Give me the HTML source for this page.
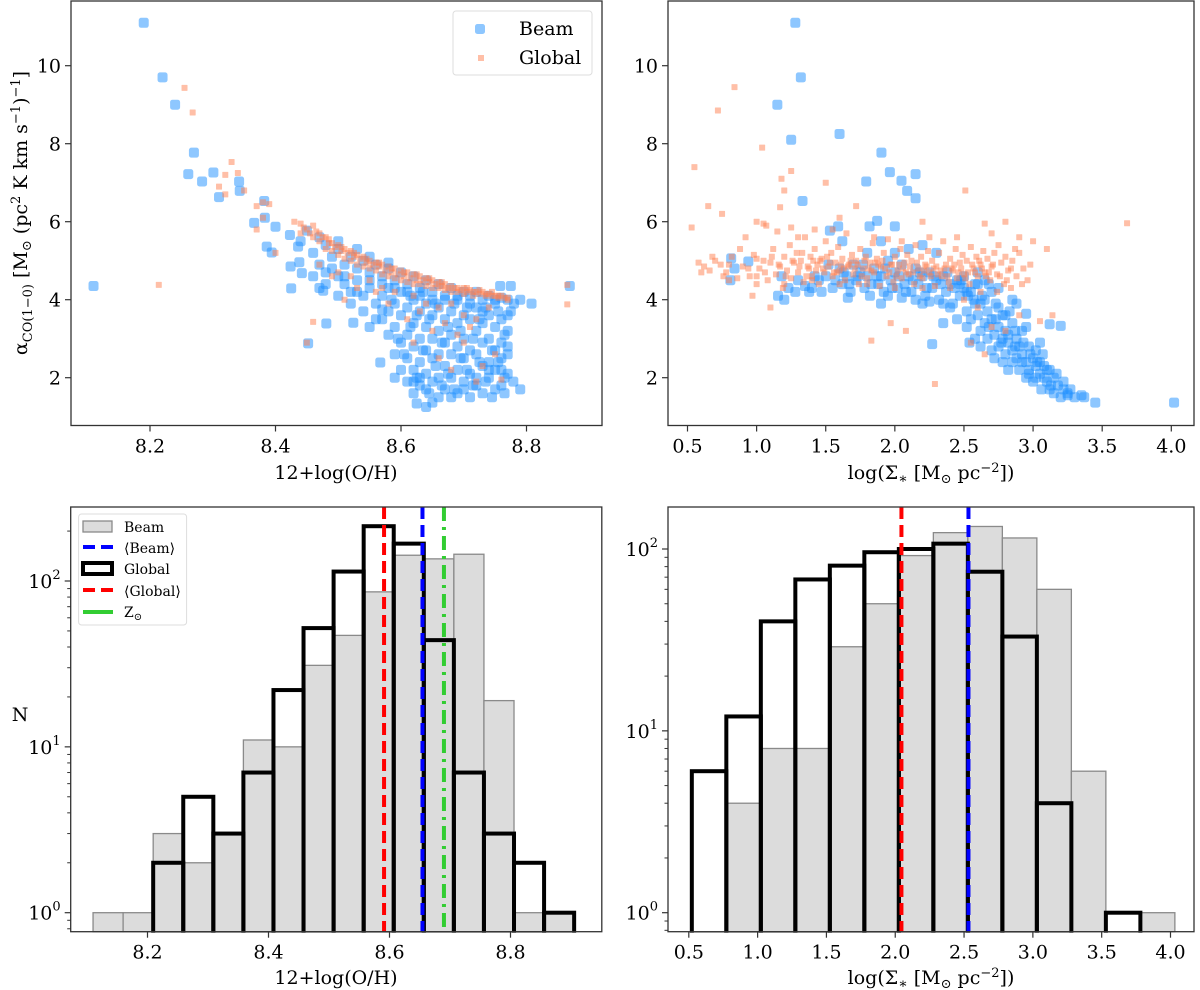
<!DOCTYPE html>
<html><head><meta charset="utf-8"><style>
html,body{margin:0;padding:0;background:#fff;}
svg{display:block;font-family:"DejaVu Serif","Liberation Serif",serif;}
</style></head><body>
<svg id="fig" width="1200" height="990" viewBox="0 0 1200 990" xmlns="http://www.w3.org/2000/svg">
<g id="gTL"></g>
<g id="gTR"></g>
<g id="gBL"></g>
<g id="gBR"></g>
<g id="gText">
<text transform="translate(27,213) rotate(-90)" text-anchor="middle" font-size="19">α<tspan font-size="13" dy="5">CO(1−0)</tspan><tspan dy="-5"> [M</tspan><tspan font-size="13" dy="4">⊙</tspan><tspan dy="-4"> (pc</tspan><tspan font-size="13" dy="-7">2</tspan><tspan dy="7"> K km s</tspan><tspan font-size="13" dy="-7">−1</tspan><tspan dy="7">)</tspan><tspan font-size="13" dy="-7">−1</tspan><tspan dy="7">]</tspan></text>
<text x="336" y="479" text-anchor="middle" font-size="19">12+log(O/H)</text>
<text x="931" y="479" text-anchor="middle" font-size="19">log(Σ<tspan font-size="14" dy="4">∗</tspan><tspan dy="-4"> [M</tspan><tspan font-size="13" dy="4">⊙</tspan><tspan dy="-4"> pc</tspan><tspan font-size="13" dy="-7">−2</tspan><tspan dy="7">])</tspan></text>
<text x="20" y="721" text-anchor="middle" font-size="19">N</text>
<text x="336" y="984" text-anchor="middle" font-size="19">12+log(O/H)</text>
<text x="931" y="984" text-anchor="middle" font-size="19">log(Σ<tspan font-size="14" dy="4">∗</tspan><tspan dy="-4"> [M</tspan><tspan font-size="13" dy="4">⊙</tspan><tspan dy="-4"> pc</tspan><tspan font-size="13" dy="-7">−2</tspan><tspan dy="7">])</tspan></text>
</g>
</svg>
<script>
// ---------- DATA ----------
const tlBeamX=[8.11,8.19,8.22,8.24,8.261,8.27,8.283,8.301,8.31,8.342,8.343,8.382,8.366,8.383,8.40,8.386,8.394,8.423,8.424,8.425,8.436,8.438,8.442,8.45,8.476,8.481,8.452,8.524,8.567,8.625,8.64,8.65,8.758,8.775,8.869,8.808,8.79,8.78,8.775,8.779,8.79,8.57,
8.46,8.47,8.48,8.48,8.49,8.50,8.50,8.51,8.51,8.52,8.52,8.53,8.53,8.54,8.54,8.55,8.55,8.56,8.56,8.57,8.57,8.57,8.58,8.58,8.58,8.59,8.59,8.59,8.60,8.60,8.60,8.60,8.61,8.61,8.61,8.61,8.62,8.62,8.62,8.62,8.62,8.63,8.63,8.63,8.63,8.63,8.64,8.64,8.64,8.64,8.64,8.65,8.65,8.65,8.65,8.65,8.66,8.66,8.66,8.66,8.66,8.67,8.67,8.67,8.67,8.67,8.68,8.68,8.68,8.68,8.68,8.69,8.69,8.69,8.69,8.69,8.70,8.70,8.70,8.70,8.70,8.71,8.71,8.71,8.71,8.71,8.72,8.72,8.72,8.72,8.72,8.73,8.73,8.73,8.73,8.73,8.74,8.74,8.74,8.74,8.74,8.75,8.75,8.75,8.75,8.75,8.76,8.76,8.76,8.76,8.76,8.77,8.77,8.77,8.77,8.62,8.59,8.44,8.47,8.50,8.53,8.55,8.58];
const tlBeamY=[4.35,11.1,9.7,9.0,7.22,7.77,7.03,7.26,6.63,7.03,6.79,6.53,5.97,6.1,5.87,5.36,5.21,5.66,4.85,4.29,5.36,4.96,4.68,5.77,4.23,3.39,2.88,3.41,2.39,1.34,1.25,1.36,4.35,4.35,4.35,3.9,4.0,3.9,3.7,1.9,1.7,3.75,
5.2,4.9,5.4,4.7,5.1,4.6,5.3,4.9,4.4,5.1,4.2,4.8,4.5,5.0,4.1,4.7,4.3,4.9,3.9,4.6,4.1,3.5,4.8,4.3,3.7,4.5,3.9,3.3,4.7,4.2,3.6,2.9,4.4,3.8,3.1,2.5,4.6,4.0,3.4,2.8,2.2,4.3,3.7,3.0,2.4,1.8,4.5,3.9,3.3,2.7,2.1,4.2,3.6,3.0,2.5,1.9,4.4,3.8,3.2,2.6,2.0,4.1,3.5,2.9,2.3,1.7,4.3,3.7,3.1,2.6,2.0,4.0,3.4,2.8,2.2,1.6,4.2,3.6,3.0,2.5,1.9,4.1,3.5,2.7,2.1,1.5,4.2,3.8,3.2,2.6,1.8,4.0,3.4,2.9,2.3,1.6,4.1,3.6,3.0,2.4,2.0,4.0,3.3,2.7,2.2,1.7,4.05,3.5,2.9,2.5,1.8,4.0,3.2,2.6,2.1,1.9,2.0,5.5,5.6,5.5,5.3,5.1,4.95];
const tlBeamX2=[8.585,8.595,8.605,8.615,8.615,8.625,8.625,8.635,8.635,8.645,8.645,8.655,8.655,8.665,8.665,8.675,8.675,8.685,8.685,8.695,8.695,8.705,8.705,8.715,8.715,8.725,8.725,8.735,8.735,8.745,8.745,8.755,8.755,8.765,8.765,8.765,8.60,8.61,8.58,8.59,8.56,8.55,8.54,8.52,8.50,8.48,8.46,8.47,8.49,8.51,8.53,8.55,8.57,8.59,8.61,8.63,8.65,8.67,8.69,8.71,8.73,8.75,8.77,8.77,8.76,8.74,8.72,8.70,8.68,8.66,8.64,8.62,8.63];
const tlBeamY2=[4.0,3.0,2.6,4.1,3.3,2.0,3.6,2.7,4.2,1.6,3.5,2.3,3.9,1.8,2.9,3.3,2.1,1.7,3.9,2.5,3.2,2.2,3.8,1.8,3.0,2.4,3.5,1.9,3.8,2.7,1.5,2.4,3.7,2.0,3.1,1.6,2.2,1.9,3.1,2.6,3.5,3.3,3.7,3.9,4.1,4.4,4.6,4.3,4.8,4.6,4.2,4.5,4.4,4.3,4.2,4.1,4.0,4.0,4.1,3.9,3.7,3.9,3.6,2.8,2.2,2.2,2.0,1.7,1.5,1.5,1.7,1.6,2.0];
const tlGlobX=[8.255,8.268,8.33,8.32,8.31,8.32,8.34,8.35,8.37,8.38,8.39,8.38,8.37,8.40,8.214,8.865,8.865,8.51,8.46,8.45,8.76,8.77,
8.43,8.44,8.44,8.45,8.46,8.46,8.47,8.47,8.48,8.48,8.49,8.49,8.50,8.50,8.51,8.51,8.52,8.52,8.53,8.53,8.54,8.54,8.55,8.55,8.56,8.56,8.57,8.57,8.58,8.58,8.59,8.59,8.60,8.60,8.61,8.61,8.62,8.62,8.63,8.63,8.64,8.64,8.65,8.65,8.66,8.66,8.67,8.67,8.68,8.68,8.69,8.69,8.70,8.70,8.71,8.72,8.73,8.74,8.75,8.76,8.77,
8.50,8.52,8.55,8.57,8.59,8.62,8.64,8.66,8.68,8.70,8.72,8.74,8.71,8.69,8.67,8.65,8.63,8.61,8.58,8.56,8.53,8.49,8.47,8.75,8.73,8.70,8.66,8.62,8.68,8.72];
const tlGlobY=[9.43,8.8,7.53,7.2,6.9,6.7,7.25,6.8,6.4,6.5,6.45,6.1,5.8,5.2,4.38,4.38,3.88,4.0,3.43,2.9,1.95,4.0,
6.0,5.95,5.7,5.8,5.6,5.9,5.5,5.7,5.6,5.3,5.45,5.25,5.4,5.15,5.3,5.05,5.25,5.0,5.15,4.9,5.1,4.85,5.0,4.8,4.95,4.75,4.9,4.65,4.85,4.6,4.8,4.55,4.75,4.5,4.7,4.45,4.65,4.4,4.6,4.4,4.55,4.35,4.5,4.3,4.45,4.3,4.4,4.25,4.35,4.2,4.3,4.2,4.3,4.15,4.25,4.2,4.2,4.15,4.1,4.1,4.05,
4.7,4.6,4.5,4.3,4.2,4.1,3.9,3.8,3.9,3.6,3.5,3.8,3.3,3.1,3.4,3.2,3.7,3.5,3.9,4.2,4.3,4.6,4.9,2.6,2.3,2.9,2.5,2.9,2.2,1.9];
const tlGlobX2=[8.445,8.455,8.465,8.475,8.485,8.495,8.505,8.515,8.525,8.535,8.545,8.555,8.565,8.575,8.585,8.595,8.605,8.615,8.625,8.635,8.645,8.655,8.665,8.675,8.685,8.695,8.705,8.715,8.725,8.735,8.745,8.755,8.765,8.705,8.715,8.725,8.735,8.745,8.755,8.665,8.645,8.625,8.605,8.585,8.565,8.545,8.525,8.505,8.485];
const tlGlobY2=[5.85,5.7,5.75,5.6,5.45,5.35,5.25,5.2,5.1,5.05,4.95,4.9,4.85,4.75,4.7,4.65,4.6,4.55,4.5,4.5,4.45,4.4,4.35,4.3,4.3,4.25,4.2,4.2,4.15,4.15,4.1,4.1,4.05,4.3,4.1,4.25,4.1,4.2,4.05,4.45,4.55,4.65,4.7,4.8,4.95,5.05,5.2,5.35,5.55];

const trBeamX=[1.28,1.32,1.15,1.25,1.6,1.903,1.964,1.793,2.048,2.15,2.089,2.15,1.332,1.872,1.817,2.0,1.53,1.59,1.62,0.816,0.94,0.84,0.81,1.18,1.155,1.23,1.28,1.38,1.66,1.9,2.2,2.27,2.54,3.12,3.2,4.02,3.45,3.37,3.25,3.06,2.88,2.95,
1.50,1.55,1.60,1.62,1.65,1.68,1.70,1.72,1.75,1.78,1.80,1.82,1.85,1.88,1.90,1.92,1.95,1.97,2.00,2.02,2.05,2.07,2.10,2.12,2.15,2.17,2.20,2.22,2.25,2.27,2.30,2.32,2.35,2.37,2.40,2.42,2.45,2.47,2.50,2.52,1.4,1.45,1.35,1.2,2.3,2.2,2.1,1.9,1.8,2.0,
2.50,2.52,2.55,2.55,2.58,2.58,2.60,2.60,2.62,2.62,2.65,2.65,2.67,2.67,2.70,2.70,2.70,2.72,2.72,2.75,2.75,2.75,2.78,2.78,2.80,2.80,2.80,2.82,2.82,2.85,2.85,2.85,2.88,2.88,2.90,2.90,2.92,2.92,2.95,2.95,2.97,2.97,3.00,3.00,3.02,3.02,3.05,3.05,3.08,3.08,3.10,3.10,3.12,3.15,3.15,3.18,3.20,3.22,3.25,3.30,2.6,2.65,2.75,2.85,2.95,3.05,2.45,2.4,2.35];
const trBeamY=[11.1,9.7,9.0,8.1,8.25,7.77,7.27,7.03,7.05,7.22,6.79,6.6,6.53,6.02,5.88,5.88,5.77,5.88,5.5,5.06,4.98,4.8,4.5,4.6,4.1,4.3,4.2,4.2,4.05,3.9,3.9,2.86,2.9,3.37,3.33,1.36,1.36,1.5,1.6,1.7,3.9,3.64,
4.6,4.3,4.8,4.4,4.6,4.2,4.9,4.5,4.7,4.3,4.6,4.1,4.8,4.4,4.6,4.2,5.0,4.5,4.7,4.3,4.9,4.4,4.6,4.2,4.8,4.4,4.6,4.1,4.7,4.3,4.5,4.0,4.6,4.2,4.4,3.9,4.5,4.1,4.3,3.7,4.3,4.5,4.35,4.0,5.2,5.4,5.3,5.5,5.2,5.2,
4.6,3.3,4.2,3.5,3.9,3.0,4.4,3.6,3.2,2.8,4.0,3.4,3.7,3.0,4.2,3.5,2.7,3.1,2.5,3.8,3.3,2.8,3.0,2.4,3.6,3.2,2.6,2.9,2.2,3.4,2.7,2.4,3.0,2.5,2.8,2.2,3.2,2.6,2.4,2.0,2.8,2.2,2.5,1.9,2.3,2.7,2.1,2.4,2.0,2.3,1.9,2.2,1.7,2.0,1.6,1.8,1.5,1.7,1.55,1.5,4.7,4.5,4.3,4.0,3.3,2.9,3.5,3.8,3.4];
const trBeamX2=[1.3,1.42,1.47,1.52,1.57,1.63,1.67,1.73,1.77,1.83,1.87,1.93,1.98,2.03,2.08,2.13,2.18,2.23,2.28,2.33,2.38,2.43,2.48,2.53,2.58,2.63,2.68,2.73,2.78,2.83,2.87,2.93,2.98,3.03,3.07,3.12,3.17,3.22,3.27,3.35,2.62,2.68,2.73,2.77,2.82,2.87,2.92,2.97,3.02,3.13,2.57,2.52,2.47,1.95,2.05,2.15,2.25,2.35];
const trBeamY2=[4.5,4.6,4.2,4.9,4.5,4.7,4.4,4.6,4.9,4.4,4.6,4.8,4.3,4.6,4.2,4.5,4.7,4.3,4.6,4.4,4.7,4.3,4.5,4.1,4.4,4.1,4.4,3.9,3.6,3.7,3.2,2.9,2.6,2.4,2.6,2.2,2.1,1.9,1.7,1.55,3.9,3.3,3.5,2.9,3.1,2.8,2.4,2.1,2.0,1.8,4.0,4.2,4.4,4.1,4.05,4.0,3.95,3.9];
const trGlobX=[0.58,0.62,0.66,0.70,0.74,0.78,0.82,0.86,0.90,0.92,0.95,0.98,1.00,1.02,1.05,1.07,1.08,1.10,1.12,1.14,1.15,1.17,1.19,1.20,1.22,1.24,1.25,1.27,1.29,1.30,1.32,1.34,1.35,1.37,1.39,1.40,1.42,1.44,1.45,1.47,1.49,1.50,1.52,1.54,1.55,1.57,1.59,1.60,1.62,1.64,1.65,1.67,1.69,1.70,1.72,1.74,1.75,1.77,1.79,1.80,1.82,1.84,1.85,1.87,1.89,1.90,1.92,1.94,1.95,1.97,1.99,2.00,2.02,2.04,2.05,2.07,2.09,2.10,2.12,2.14,2.15,2.17,2.19,2.20,2.22,2.24,2.25,2.27,2.29,2.30,2.32,2.34,2.35,2.37,2.39,2.40,2.42,2.44,2.45,2.47,2.49,2.50,2.52,2.54,2.55,2.57,2.59,2.60,2.62,2.64,2.65,2.67,2.69,2.70,2.72,2.74,2.75,2.77,2.79,2.80,2.82,2.85,2.88,2.90,2.93,2.96,
1.31,1.43,1.53,1.63,1.73,1.83,1.93,2.03,2.13,2.23,2.33,2.43,2.53,2.63,1.36,1.46,1.56,1.66,1.76,1.86,1.96,2.06,2.16,2.26,2.36,2.46,2.56,2.66,
0.55,0.65,0.53,0.72,0.84,1.04,1.18,1.25,1.20,1.17,1.50,1.72,2.51,3.68,2.29,1.83,2.08,1.97,3.14,3.05,0.97,1.0,1.05,1.30,2.8,2.9,3.0,3.1,1.6,2.65,2.2,1.42,0.75,1.1,2.6,2.7,2.5,2.8,2.9,2.55,2.65];
const trGlobY=[4.95,4.85,4.75,5.0,4.9,4.7,5.1,4.55,4.85,5.6,4.6,5.15,4.4,4.8,5.0,5.9,4.5,4.95,5.3,4.65,5.75,4.85,4.3,5.1,4.75,5.4,4.55,4.95,5.2,4.7,5.0,4.45,5.6,4.85,5.1,4.6,5.3,4.9,4.4,5.05,4.7,5.5,4.85,5.2,4.6,4.95,5.35,4.75,5.05,4.5,5.7,4.9,5.15,4.65,5.0,4.4,5.3,4.8,5.1,4.55,4.95,5.45,4.7,5.05,4.35,4.85,5.2,4.6,5.55,4.9,4.45,5.1,4.75,5.3,4.55,4.95,5.15,4.65,5.0,4.4,5.4,4.8,5.1,4.55,4.9,5.25,4.7,5.0,4.35,4.85,5.2,4.6,5.5,4.9,4.45,5.05,4.75,5.3,4.55,4.95,5.15,4.65,5.0,4.4,5.35,4.8,5.1,4.6,4.9,5.25,4.7,5.05,4.5,4.85,5.2,4.65,5.4,4.95,4.4,5.1,4.75,5.0,4.6,5.2,4.8,4.5,
4.85,4.75,4.95,4.8,4.9,4.75,4.8,4.9,4.7,4.85,4.75,4.9,4.7,4.8,4.6,5.0,4.7,4.85,4.6,4.95,4.7,4.8,4.95,4.6,4.8,4.7,4.9,4.6,
7.4,6.4,5.85,8.85,9.45,7.9,7.1,7.3,6.8,6.37,7.0,6.4,6.8,5.96,1.84,2.95,3.2,3.4,3.6,3.45,4.1,6.0,5.95,5.6,6.0,5.6,5.5,5.3,6.1,5.95,6.0,5.8,6.2,3.8,3.8,3.3,4.0,3.2,3.6,2.9,2.6];
const trGlobX2=[0.6,0.68,0.76,0.8,0.88,0.94,1.0,1.06,1.11,1.16,1.21,1.26,1.33,1.38,1.41,1.48,1.51,1.58,1.61,1.68,1.71,1.78,1.81,1.88,1.91,1.98,2.01,2.08,2.11,2.18,2.21,2.28,2.31,2.38,2.41,2.48,2.51,2.58,2.61,2.68,2.71,2.76,2.81,2.84,2.87,2.92,2.98,2.84,2.74,2.62,2.4,2.2,2.0,1.8,1.6,1.4,1.2,1.0,0.8,1.85,2.05,2.25,2.45,2.7,1.55,1.25];
const trGlobY2=[4.7,5.1,4.6,4.9,5.3,4.8,5.05,4.7,5.1,4.9,4.6,5.0,5.2,4.8,5.0,4.8,5.1,4.7,4.9,5.0,4.8,5.0,4.8,4.9,5.0,4.9,4.6,4.7,4.85,4.6,4.75,4.8,4.65,4.6,4.8,4.8,4.55,4.7,5.0,4.7,4.9,4.6,4.5,4.8,5.3,4.4,4.9,4.3,4.2,4.2,4.3,4.3,4.3,4.4,4.4,4.5,4.4,4.6,4.5,5.6,5.5,5.6,5.6,5.7,5.8,5.85];

// Histogram (metallicity)
const blBinStart=8.11, blBinWidth=0.0497;
const blBeamCounts=[1,1,3,2,3,11,10,31,47,86,143,136,145,19,1,1];
const blGlobalCounts=[0,0,2,5,3,7,22,52,114,214,168,44,7,3,2,1];
const blMeanBeam=8.6545, blMeanGlobal=8.591, blSolar=8.69;
// Histogram (stellar density)
const brBinStart=0.522, brBinWidth=0.2507;
const brBeamCounts=[0,4,8,8,29,50,92,123,133,115,60,6,0,1];
const brGlobalCounts=[6,12,40,68,81,96,100,107,75,33,4,0,1,0];
const brMeanBeam=2.532, brMeanGlobal=2.045;
// ticks
const tlXTicks=[8.2,8.4,8.6,8.8], tlXLabels=["8.2","8.4","8.6","8.8"];
const yTicks=[2,4,6,8,10], yLabels=["2","4","6","8","10"];
const trXTicks=[0.5,1.0,1.5,2.0,2.5,3.0,3.5,4.0], trXLabels=["0.5","1.0","1.5","2.0","2.5","3.0","3.5","4.0"];
const logDecades=[0,1,2];

// ---------- HELPERS ----------
const NS="http://www.w3.org/2000/svg";
function mk(tag,attrs,parent){const e=document.createElementNS(NS,tag);for(const k in attrs)e.setAttribute(k,attrs[k]);parent.appendChild(e);return e;}
function lin(d0,d1,p0,p1){return v=>p0+(v-d0)*(p1-p0)/(d1-d0);}
function logs(d0,d1,p0,p1){return v=>p0+(Math.log10(v)-d0)*(p1-p0)/(d1-d0);}

function frame(g,L,T,R,B){const r=mk('rect',{x:L,y:T,width:R-L,height:B-T,fill:'none',stroke:'#333','stroke-width':1.3},g);

}
function xTicks(g,sx,ticks,labels,B,fs){ticks.forEach((t,i)=>{const x=sx(t);
const l=mk('line',{x1:x,x2:x,y1:B,y2:B+6,stroke:'#333','stroke-width':1.2},g);


const tx=mk('text',{x:x,y:B+27,'text-anchor':'middle','font-size':fs},g);tx.textContent=labels[i];

});}
function yTicksLin(g,sy,L){yTicks.forEach((t,i)=>{const y=sy(t);
const l=mk('line',{x1:L-6,x2:L,y1:y,y2:y,stroke:'#333','stroke-width':1.2},g);


const tx=mk('text',{x:L-10,y:y+7,'text-anchor':'end','font-size':19},g);tx.textContent=yLabels[i];

});}
function yTicksLog(g,sy,L,T,B){logDecades.forEach(d=>{const y=sy(Math.pow(10,d));
const l=mk('line',{x1:L-6,x2:L,y1:y,y2:y,stroke:'#333','stroke-width':1.2},g);


const tx=mk('text',{x:L-10,y:y+7,'text-anchor':'end','font-size':19},g);tx.textContent='10';


const sp=mk('tspan',{'font-size':13,dy:-9},tx);sp.textContent=String(d);});
for(let d=-1;d<=2;d++)for(let m=2;m<=9;m++){const y=sy(m*Math.pow(10,d));if(y<T||y>B)continue;
const l=mk('line',{x1:L-3.5,x2:L,y1:y,y2:y,stroke:'#333','stroke-width':1},g);

}}
function scatter(g,xs,ys,sx,sy,kind){const s=kind==='beam'?10:6;xs.forEach((v,i)=>{
const r=mk('rect',{x:sx(v)-s/2,y:sy(ys[i])-s/2,width:s,height:s,rx:kind==='beam'?2.5:0.5,fill:kind==='beam'?'#1E90FF':'#FF7F50','fill-opacity':0.5},g);

});}
function hist(g,start,w,counts,sx,sy,B,kind){counts.forEach((c,i)=>{if(c<=0)return;
const x0=sx(start+i*w),x1=sx(start+(i+1)*w),y=sy(c);
const r=mk('rect',kind==='beam'?{x:x0,y:y,width:x1-x0,height:B-y,fill:'#dcdcdc',stroke:'#8a8a8a','stroke-width':1.3}:{x:x0,y:y,width:x1-x0,height:B-y+3,fill:'none',stroke:'#000','stroke-width':4},g);

});}
function vline(g,x,T,B,color,dash,name){const l=mk('line',{x1:x,x2:x,y1:T,y2:B,stroke:color,'stroke-width':4,'stroke-dasharray':dash},g);

}

// ---------- TOP LEFT ----------
(function(){const g=document.getElementById('gTL');const L=71,T=1,R=602,B=425.5;
const sx=lin(8.2,8.8,150,526.5), sy=lin(10,8,65.7,143.7);
const cg=mk('g',{},g);
scatter(cg,tlBeamX.concat(tlBeamX2),tlBeamY.concat(tlBeamY2),sx,sy,'beam');
scatter(cg,tlGlobX.concat(tlGlobX2),tlGlobY.concat(tlGlobY2),sx,sy,'global');
frame(g,L,T,R,B);xTicks(g,sx,tlXTicks,tlXLabels,B,19);yTicksLin(g,sy,L);
const lg=mk('g',{},g);
mk('rect',{x:453,y:11,width:139,height:64,rx:3,fill:'#fff',stroke:'#ddd'},lg);
mk('rect',{x:475,y:24,width:10,height:10,rx:2.5,fill:'#1E90FF','fill-opacity':0.5},lg);
mk('rect',{x:478,y:55,width:6,height:6,fill:'#FF7F50','fill-opacity':0.5},lg);
let t=mk('text',{x:519,y:35,'font-size':19},lg);t.textContent='Beam';


t=mk('text',{x:519,y:64,'font-size':19},lg);t.textContent='Global';


})();
// ---------- TOP RIGHT ----------
(function(){const g=document.getElementById('gTR');const L=668,T=1,R=1194,B=425.5;
const sx=lin(0.5,4.0,687.5,1171.3), sy=lin(10,8,65.7,143.7);
const cg=mk('g',{},g);
scatter(cg,trBeamX.concat(trBeamX2),trBeamY.concat(trBeamY2),sx,sy,'beam');
scatter(cg,trGlobX.concat(trGlobX2),trGlobY.concat(trGlobY2),sx,sy,'global');
frame(g,L,T,R,B);xTicks(g,sx,trXTicks,trXLabels,B,19);yTicksLin(g,sy,L);
})();
// ---------- BOTTOM LEFT ----------
(function(){const g=document.getElementById('gBL');const L=70.7,T=507,R=601.8,B=931.7;
const sx=lin(8.2,8.8,147.5,510.5), sy=logs(0,2,912.7,581);
const cg=mk('g',{},g);
hist(cg,blBinStart,blBinWidth,blBeamCounts,sx,sy,B,'beam');
hist(cg,blBinStart,blBinWidth,blGlobalCounts,sx,sy,B,'global');
vline(cg,sx(blMeanGlobal),T,B,'#ff0000','12 6','mean-global-line');
vline(cg,sx(blMeanBeam),T,B,'#0000ff','12 6','mean-beam-line');
vline(cg,sx(blSolar),T,B,'#32cd32','14 6 3 6','solar-metallicity-line');
mk('rect',{x:L-2,y:B+1,width:R-L+4,height:10,fill:'#fff'},g);
frame(g,L,T,R,B);xTicks(g,sx,tlXTicks,tlXLabels,B,19);yTicksLog(g,sy,L,T,B);
const lg=mk('g',{},g);
mk('rect',{x:78.6,y:514,width:108,height:111,rx:3,fill:'#fff',stroke:'#ddd'},lg);
mk('rect',{x:83,y:521,width:29,height:11,fill:'#dcdcdc',stroke:'#8a8a8a','stroke-width':1.3},lg);
mk('line',{x1:83,x2:113,y1:547,y2:547,stroke:'#0000ff','stroke-width':4,'stroke-dasharray':'12 6'},lg);
mk('rect',{x:83,y:563,width:29,height:11,fill:'#fff',stroke:'#000','stroke-width':4},lg);
mk('line',{x1:83,x2:113,y1:590,y2:590,stroke:'#ff0000','stroke-width':4,'stroke-dasharray':'12 6'},lg);
mk('line',{x1:83,x2:113,y1:612,y2:612,stroke:'#32cd32','stroke-width':4},lg);
const labs=['Beam','⟨Beam⟩','Global','⟨Global⟩','Z'];const ys=[532,553,574,596,617];
labs.forEach((s,i)=>{const t=mk('text',{x:124,y:ys[i],'font-size':14},lg);t.textContent=s;


if(i===4){const sp=mk('tspan',{'font-size':10,dy:3},t);sp.textContent='⊙';}});
})();
// ---------- BOTTOM RIGHT ----------
(function(){const g=document.getElementById('gBR');const L=668,T=507,R=1194,B=931.7;
const sx=lin(0.5,4.0,688.8,1170.5), sy=logs(0,2,912.7,549);
const cg=mk('g',{},g);
hist(cg,brBinStart,brBinWidth,brBeamCounts,sx,sy,B,'beam');
hist(cg,brBinStart,brBinWidth,brGlobalCounts,sx,sy,B,'global');
vline(cg,sx(brMeanGlobal),T,B,'#ff0000','12 6','mean-global-line');
vline(cg,sx(brMeanBeam),T,B,'#0000ff','12 6','mean-beam-line');
mk('rect',{x:L-2,y:B+1,width:R-L+4,height:10,fill:'#fff'},g);
frame(g,L,T,R,B);xTicks(g,sx,trXTicks,trXLabels,B,19);yTicksLog(g,sy,L,T,B);
})();
</script>
</body></html>
